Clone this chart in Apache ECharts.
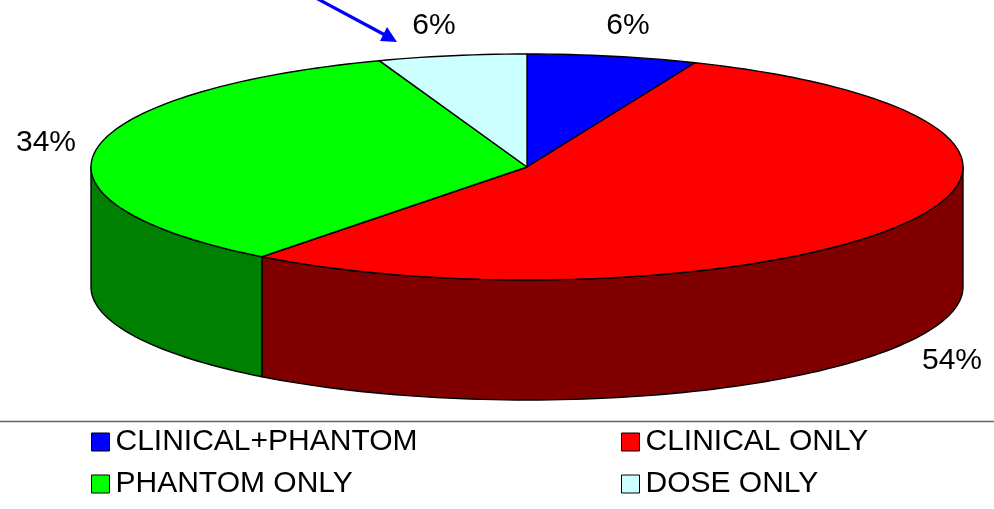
<!DOCTYPE html>
<html><head><meta charset="utf-8">
<style>html,body{margin:0;padding:0;background:#fff}#c{width:994px;height:509px}</style>
<script src="https://cdn.jsdelivr.net/npm/echarts@6/dist/echarts.min.js"></script>
</head><body><div id="c"></div>
<script>
var categories = ['CLINICAL+PHANTOM', 'CLINICAL ONLY', 'PHANTOM ONLY', 'DOSE ONLY'];
var values = [6.3, 54.1, 34.1, 5.5];
var topColors = ['#0000ff', '#ff0000', '#00ff00', '#ccffff'];
var sideColors = ['#000080', '#800000', '#008000', '#669999'];
var labelAnchors = [[628, 26], [952, 361], [46, 143], [434, 26]];

var CX = 527, CY = 167, RX = 436, RY = 113, DEPTH = 120, FONT = 'Liberation Sans, Arial, sans-serif', FS = 30;
var total = values.reduce(function (a, b) { return a + b; }, 0);

function pt(deg, dy) {
  var r = deg * Math.PI / 180;
  return [CX + RX * Math.sin(r), CY - RY * Math.cos(r) + (dy || 0)];
}
function arc(a0, a1, dy) {
  var pts = [], n = Math.max(2, Math.ceil(Math.abs(a1 - a0) / 1.5));
  for (var i = 0; i <= n; i++) pts.push(pt(a0 + (a1 - a0) * i / n, dy));
  return pts;
}
function renderSlice(index) {
  return function (params, api) {
    var before = 0;
    for (var i = 0; i < index; i++) before += values[i];
    var a0 = before / total * 360, a1 = (before + api.value(0)) / total * 360;
    var line = { stroke: '#000', lineWidth: 1.4, lineJoin: 'round' };
    var children = [];
    // visible wall: front half of the rim (90deg..270deg)
    var w0 = Math.max(a0, 90), w1 = Math.min(a1, 270);
    if (w1 > w0) {
      children.push({
        type: 'polygon',
        shape: { points: arc(w0, w1, 0).concat(arc(w1, w0, DEPTH)) },
        style: Object.assign({ fill: sideColors[index] }, line)
      });
    }
    children.push({
      type: 'polygon',
      shape: { points: [[CX, CY]].concat(arc(a0, a1, 0)) },
      style: Object.assign({ fill: topColors[index] }, line)
    });
    children.push({
      type: 'text',
      style: {
        text: Math.round(api.value(0) / total * 100) + '%',
        x: labelAnchors[index][0], y: labelAnchors[index][1],
        align: 'center', verticalAlign: 'middle',
        font: FS + 'px ' + FONT, fill: '#000'
      }
    });
    return { type: 'group', children: children };
  };
}
var legendCommon = {
  orient: 'vertical', top: 427, itemWidth: 18, itemHeight: 18, itemGap: 12, icon: 'rect', padding: 0,
  selectedMode: false,
  textStyle: { fontFamily: FONT, fontSize: FS, color: '#000', padding: [0, 0, 0, 1], lineHeight: 30 },
  itemStyle: { borderColor: '#000', borderWidth: 1 }
};
var option = {
  animation: false,
  backgroundColor: '#fff',
  xAxis: { show: false, min: 0, max: 1 },
  yAxis: { show: false, min: 0, max: 1 },
  grid: { left: 0, right: 0, top: 0, bottom: 0 },
  legend: [
    Object.assign({ left: 91, data: [categories[0], categories[2]] }, legendCommon),
    Object.assign({ left: 621, data: [categories[1], categories[3]] }, legendCommon)
  ],
  series: categories.map(function (name, i) {
    return {
      type: 'custom', name: name, coordinateSystem: 'none', silent: true, clip: false,
      itemStyle: { color: topColors[i] },
      data: [[values[i]]],
      renderItem: renderSlice(i)
    };
  }),
  graphic: [
    { type: 'line', shape: { x1: 0, y1: 421.5, x2: 994, y2: 421.5 }, style: { stroke: '#666', lineWidth: 1.3 } },
    { type: 'line', shape: { x1: 316, y1: -2, x2: 385, y2: 35 }, style: { stroke: '#0000ff', lineWidth: 3.2 } },
    { type: 'polygon', shape: { points: [[397, 42], [380, 41], [387, 27]] }, style: { fill: '#0000ff' } }
  ]
};
echarts.init(document.getElementById('c')).setOption(option);
</script></body></html>
